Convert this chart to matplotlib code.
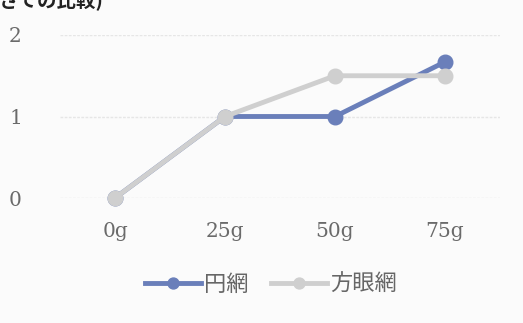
import matplotlib
matplotlib.use("Agg")
import matplotlib.pyplot as plt

categories = ["0g", "25g", "50g", "75g"]
series_names = ["円網", "方眼網"]
circle_net = [0, 1, 1, 1.67]
grid_net = [0, 1, 1.5, 1.5]
yticks = [0, 1, 2]

W, H = 523, 323
fig = plt.figure(figsize=(W / 100, H / 100), dpi=100, facecolor="#fbfbfb")
ax = fig.add_axes([60 / W, 1 - 198 / H, 440 / W, 163 / H])
ax.set_facecolor("#fbfbfb")

x = list(range(len(categories)))
ax.plot(x, circle_net, color="#6a7fba", lw=3.5, marker="o", ms=10.5,
        clip_on=False, zorder=3, label=series_names[0])
ax.plot(x, grid_net, color="#cfcfcf", lw=3.5, marker="o", ms=10.5,
        clip_on=False, zorder=4, label=series_names[1])

ax.set_xlim(-0.5, len(categories) - 0.5)
ax.set_ylim(0, 2)
ax.set_yticks(yticks)
ax.set_yticklabels([str(v) for v in yticks])
ax.set_xticks(x)
ax.set_xticklabels(categories)
for s in ax.spines.values():
    s.set_visible(False)
ax.grid(axis="y", color="#e6e6e6", lw=1, ls=(0, (2, 1)))
ax.set_axisbelow(True)
ax.tick_params(length=0, colors="#666666")
for lab in ax.get_yticklabels():
    lab.set_fontfamily("DejaVu Serif")
    lab.set_fontsize(14.5)
    lab.set_color("#6a6a6a")
    lab.set_horizontalalignment("center")
for lab in ax.get_xticklabels():
    lab.set_fontfamily("DejaVu Serif")
    lab.set_fontsize(14.5)
    lab.set_color("#6a6a6a")
ax.tick_params(axis="y", pad=32)
ax.tick_params(axis="x", pad=17)

leg = fig.legend(loc="center", bbox_to_anchor=(271 / W, 1 - 284 / H),
                 ncol=2, frameon=False, handlelength=2.5, columnspacing=1.0,
                 handletextpad=0.15, markerscale=0.75,
                 prop={"family": ["Noto Sans CJK JP", "DejaVu Sans"], "size": 16})
for t in leg.get_texts():
    t.set_color("#666666")

fig.text(-2 / W, 1 - 6 / H, "さでの比較)", fontsize=14, fontweight="bold",
         family=["Noto Sans CJK JP", "DejaVu Sans"], va="baseline", ha="left",
         color="#222222")

fig.savefig("out.png", dpi=100, facecolor=fig.get_facecolor())
